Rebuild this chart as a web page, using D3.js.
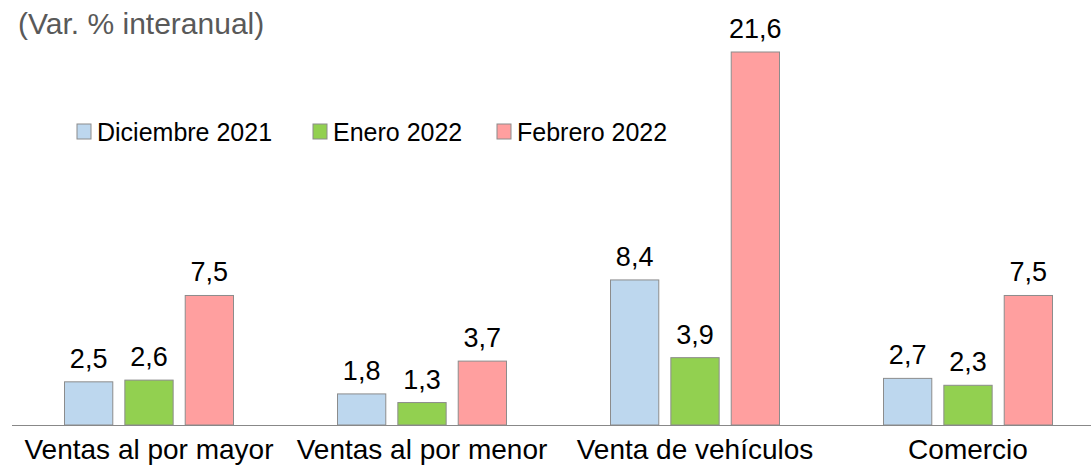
<!DOCTYPE html>
<html>
<head>
<meta charset="utf-8">
<script src="https://cdn.jsdelivr.net/npm/d3@7"></script>
<style>
  body { margin: 0; background: #fff; }
  svg { display: block; font-family: "Liberation Sans", Arial, sans-serif; }
</style>
</head>
<body>
<svg id="chart" width="1091" height="472"></svg>
<script>
var categories = ["Ventas al por mayor", "Ventas al por menor", "Venta de vehículos", "Comercio"];
var series = ["Diciembre 2021", "Enero 2022", "Febrero 2022"];
var dic2021 = [2.5, 1.8, 8.4, 2.7];
var ene2022 = [2.6, 1.3, 3.9, 2.3];
var feb2022 = [7.5, 3.7, 21.6, 7.5];
var colors = ["#BDD7EE", "#92D050", "#FF9F9F"];

var values = [dic2021, ene2022, feb2022];
var rows = categories.map(function(c, i) {
  return { cat: c, vals: series.map(function(s, j) { return { s: s, v: values[j][i], c: colors[j] }; }) };
});

var svg = d3.select("#chart");

var x0 = d3.scaleBand().domain(categories).range([12.5, 1104.5]);
var x1 = d3.scaleBand().domain(series).range([52, 221]).paddingInner(0.2);
var y = d3.scaleLinear().domain([0, 21.6]).range([425, 52]);

var fmt = function(v) { return d3.format(".1f")(v).replace(".", ","); };

// title
svg.append("text").attr("x", 18).attr("y", 34)
  .attr("font-size", 30).attr("fill", "#595959")
  .text("(Var. % interanual)");

var g = svg.selectAll("g.grp").data(rows).enter().append("g")
  .attr("class", "grp")
  .attr("transform", d => "translate(" + x0(d.cat) + ",0)");

g.selectAll("rect").data(d => d.vals).enter().append("rect")
  .attr("x", d => x1(d.s)).attr("width", x1.bandwidth())
  .attr("y", d => y(d.v)).attr("height", d => y(0) - y(d.v))
  .attr("fill", d => d.c).attr("stroke", "#8c8c8c").attr("stroke-width", 1);

g.selectAll("text.val").data(d => d.vals).enter().append("text")
  .attr("class", "val")
  .attr("x", d => x1(d.s) + x1.bandwidth() / 2)
  .attr("y", d => y(d.v) - 14)
  .attr("text-anchor", "middle").attr("font-size", 27).attr("fill", "#000")
  .text(d => fmt(d.v));

// baseline
svg.append("line").attr("x1", 12).attr("x2", 1091)
  .attr("y1", y(0) + 0.5).attr("y2", y(0) + 0.5)
  .attr("stroke", "#888").attr("stroke-width", 1.2);

// category labels
svg.selectAll("text.cat").data(categories).enter().append("text")
  .attr("class", "cat")
  .attr("x", d => x0(d) + x0.bandwidth() / 2).attr("y", 459)
  .attr("text-anchor", "middle").attr("font-size", 28).attr("fill", "#000")
  .text(d => d);

// legend
var legX = [77, 313, 497];
var leg = svg.selectAll("g.leg").data(series).enter().append("g")
  .attr("class", "leg")
  .attr("transform", (d, i) => "translate(" + legX[i] + ",124)");
leg.append("rect").attr("width", 14).attr("height", 15)
  .attr("fill", (d, i) => colors[i]).attr("stroke", "#8c8c8c");
leg.append("text").attr("x", 20).attr("y", 17)
  .attr("font-size", 25).attr("fill", "#000").text(d => d);
</script>
</body>
</html>
